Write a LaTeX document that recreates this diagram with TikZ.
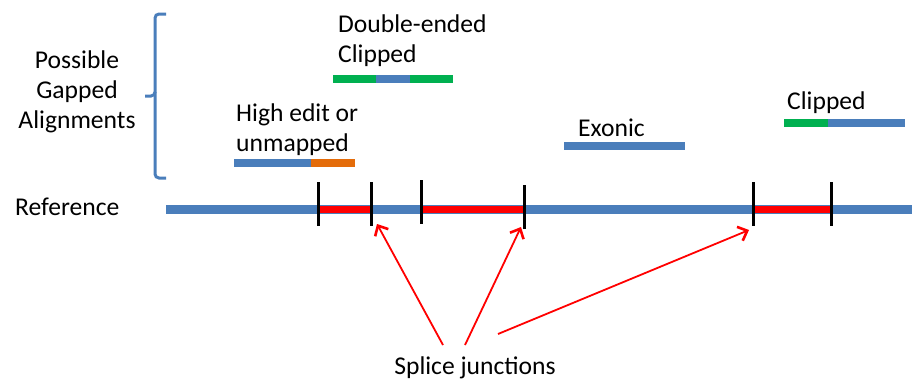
\documentclass[tikz,border=0pt]{standalone}
\usepackage{fontspec}
\setmainfont{Carlito}
\usetikzlibrary{arrows.meta}
\definecolor{refblue}{RGB}{74,126,187}
\definecolor{clipgreen}{RGB}{0,176,80}
\definecolor{editorange}{RGB}{228,108,10}
\definecolor{exonred}{RGB}{255,0,0}
\tikzset{
  lbl/.style={font=\fontsize{25.6}{30}\selectfont, inner sep=0pt, text=black},
  seg/.style={line width=8pt},
  refline/.style={line width=9pt, refblue},
  exon/.style={line width=7pt, exonred},
  junc/.style={line width=3pt, black},
  pointer/.style={line width=1.8pt, exonred, -{Straight Barb[length=8pt,width=15pt,line width=2.6pt]}},
  brace/.style={line width=3pt, refblue, rounded corners=4pt}
}
\begin{document}
\begin{tikzpicture}[x=1pt,y=-1pt]
\useasboundingbox (0,0) rectangle (912,383);
% labels
\node[lbl, align=center] (gapped) at (77,92) {Possible\\Gapped\\Alignments};
\node[lbl, align=left, anchor=west] (dbl) at (338,41) {Double-ended\\Clipped};
\node[lbl, align=left, anchor=west] (hie) at (236,130) {High edit or\\unmapped};
\node[lbl, anchor=west] (exo) at (578,128) {Exonic};
\node[lbl, anchor=west] (clp) at (787,103) {Clipped};
\node[lbl, anchor=west] (ref) at (15,207) {Reference};
\node[lbl] (sj) at (475,368) {Splice junctions};
% brace grouping the alignments
\draw[brace] (166,14) -- (155,14) -- (155,96) -- (145,96);
\draw[brace] (155,92) -- (155,178) -- (166,178);
% alignment bars
\draw[seg, clipgreen] (333,79) -- (376,79);
\draw[seg, refblue] (376,79) -- (410,79);
\draw[seg, clipgreen] (410,79) -- (453,79);
\draw[seg, refblue] (234,163) -- (311,163);
\draw[seg, editorange] (311,163) -- (355,163);
\draw[seg, refblue] (564,146) -- (685,146);
\draw[seg, clipgreen] (784,123) -- (828,123);
\draw[seg, refblue] (828,123) -- (905,123);
% reference with exons
\draw[refline] (166,209) -- (912,209);
\draw[exon] (318,209) -- (371,209);
\draw[exon] (421,209) -- (524,209);
\draw[exon] (753,209) -- (831,209);
% junction ticks
\draw[junc] (318,182) -- (318,226);
\draw[junc] (371,182) -- (371,226) coordinate (j1);
\draw[junc] (421,180) -- (421,224);
\draw[junc] (524,185) -- (524,229) coordinate (j2);
\draw[junc] (753,182) -- (753,226) coordinate (j3);
\draw[junc] (831,182) -- (831,226);
% pointers from the label
\coordinate (p1) at (443,345);
\coordinate (p2) at (465,345);
\coordinate (p3) at (498,334);
\draw[pointer] (p1) -- ([xshift=6pt,yshift=2pt]j1);
\draw[pointer] (p2) -- ([xshift=-3pt,yshift=2pt]j2);
\draw[pointer] (p3) -- ([xshift=-4pt,yshift=-4pt]j3);
\end{tikzpicture}
\end{document}
